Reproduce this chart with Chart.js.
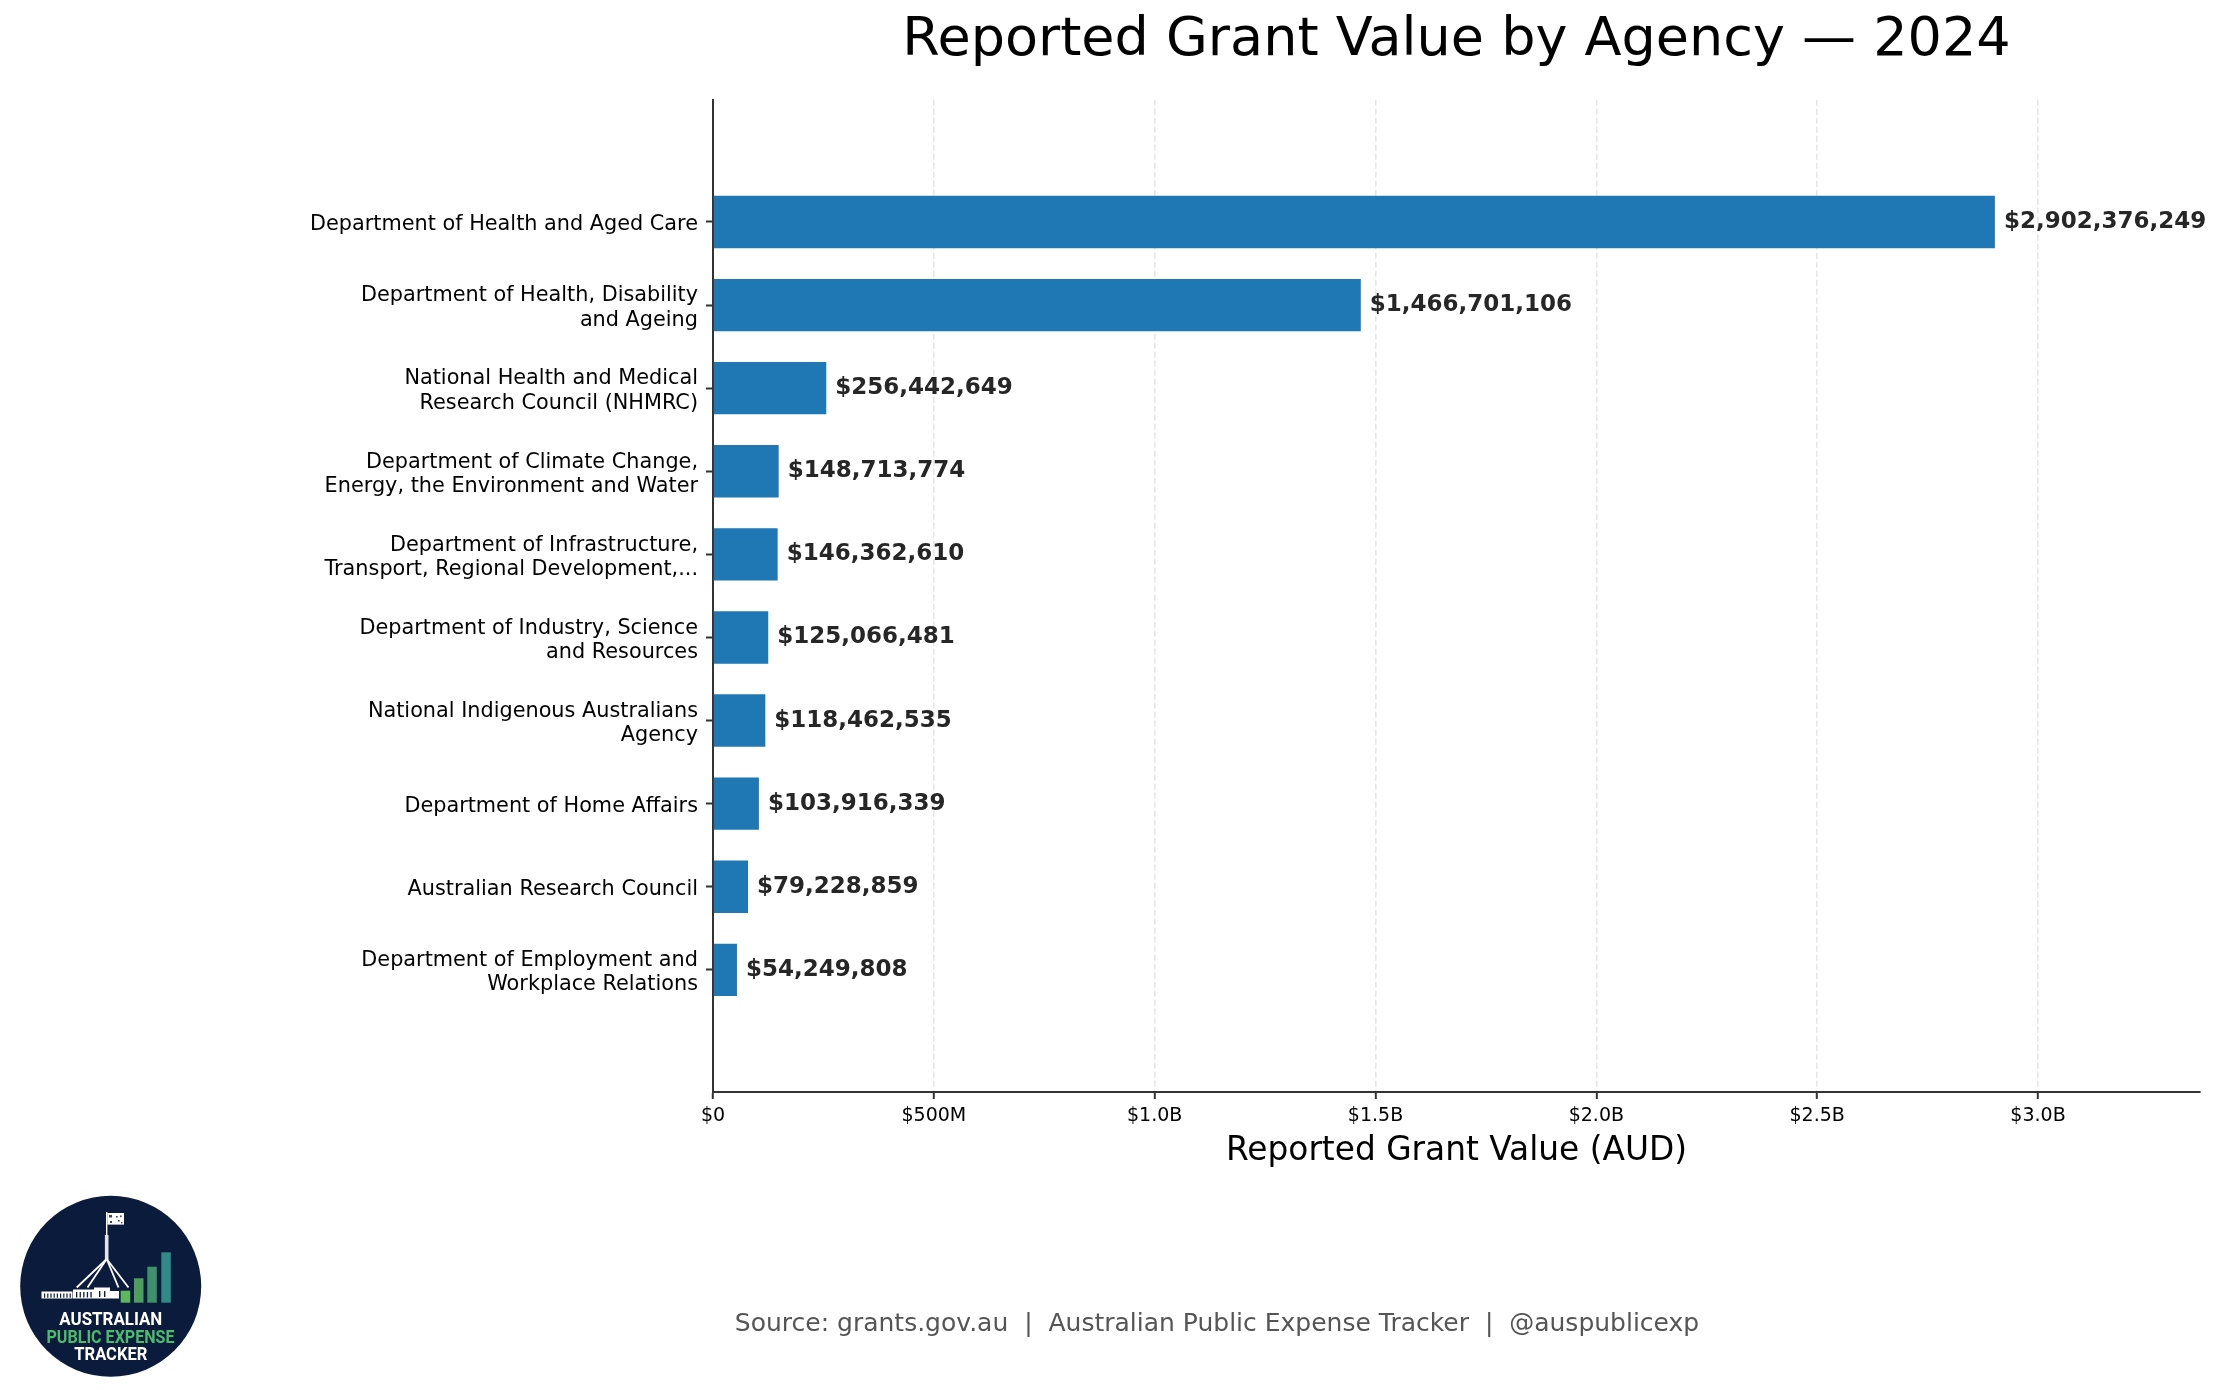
<!DOCTYPE html>
<html><head><meta charset="utf-8">
<script src="https://cdn.jsdelivr.net/npm/chart.js@4.4.1/dist/chart.umd.min.js"></script>
<style>html,body{margin:0;padding:0;background:#fff;} canvas{display:block;}</style>
</head><body>
<canvas id="c" width="2218" height="1399"></canvas>
<script>
// ---- data ----
const agencyLabels = [
  ["Department of Health and Aged Care"],
  ["Department of Health, Disability", "and Ageing"],
  ["National Health and Medical", "Research Council (NHMRC)"],
  ["Department of Climate Change,", "Energy, the Environment and Water"],
  ["Department of Infrastructure,", "Transport, Regional Development,..."],
  ["Department of Industry, Science", "and Resources"],
  ["National Indigenous Australians", "Agency"],
  ["Department of Home Affairs"],
  ["Australian Research Council"],
  ["Department of Employment and", "Workplace Relations"]
];
const grantValues = [2902376249, 1466701106, 256442649, 148713774, 146362610, 125066481, 118462535, 103916339, 79228859, 54249808];
const xTickValues = [0, 500000000, 1000000000, 1500000000, 2000000000, 2500000000, 3000000000];
const titleText = 'Reported Grant Value by Agency \u2014 2024';
const xAxisTitle = 'Reported Grant Value (AUD)';
const sourceText = 'Source: grants.gov.au  |  Australian Public Expense Tracker  |  @auspublicexp';

Chart.defaults.font.family = '"DejaVu Sans", sans-serif';

function fmtTick(v) {
  if (v === 0) return '$0';
  if (v < 1e9) return '$' + Math.round(v / 1e6) + 'M';
  return '$' + (v / 1e9).toFixed(1) + 'B';
}

const valueLabelPlugin = {
  id: 'valueLabels',
  afterDatasetsDraw(chart) {
    const ctx = chart.ctx;
    const meta = chart.getDatasetMeta(0);
    ctx.save();
    ctx.font = 'bold 23px "DejaVu Sans"';
    ctx.fillStyle = '#262626';
    ctx.textAlign = 'left';
    ctx.textBaseline = 'middle';
    meta.data.forEach((bar, i) => {
      ctx.fillText('$' + grantValues[i].toLocaleString('en-US'), bar.x + 9, bar.y);
    });
    ctx.restore();
  }
};

function drawLogo(ctx) {
  const cx = 110.7, cy = 1286.3, r = 90.5;
  ctx.save();
  ctx.beginPath(); ctx.arc(cx, cy, r, 0, Math.PI * 2);
  ctx.fillStyle = '#0b1b3c'; ctx.fill();
  // flag pole + mast
  ctx.strokeStyle = '#ffffff'; ctx.lineWidth = 1.4;
  ctx.beginPath(); ctx.moveTo(106.7, 1212); ctx.lineTo(106.7, 1236); ctx.stroke();
  ctx.fillStyle = '#dfe4ec'; ctx.fillRect(104.9, 1235, 3.6, 25);
  // flag
  ctx.fillStyle = '#ffffff'; ctx.fillRect(107.4, 1213, 16.6, 11.6);
  ctx.fillStyle = '#33456b';
  [[109,1215,3,2.5],[116,1216,1.6,1.6],[120,1215.5,1.6,1.6],[118,1220,1.6,1.6],[110,1221,2,2],[121,1222,1.4,1.4]].forEach(p => ctx.fillRect(p[0], p[1], p[2], p[3]));
  // legs
  ctx.strokeStyle = '#ffffff'; ctx.lineWidth = 1.8;
  [[76.7,1287.5],[87.5,1287.5],[128.5,1287.5],[118.5,1287.5]].forEach(p => {
    ctx.beginPath(); ctx.moveTo(106.7, 1259); ctx.lineTo(p[0], p[1]); ctx.stroke();
  });
  // building
  ctx.fillStyle = '#ffffff';
  ctx.fillRect(41.5, 1291.5, 31, 7);
  ctx.fillRect(73, 1289.5, 21, 9);
  ctx.fillRect(94, 1287.5, 16, 11);
  ctx.fillRect(110, 1291, 9, 7.5);
  ctx.fillStyle = '#0b1b3c';
  for (let x = 44; x < 71; x += 3.2) ctx.fillRect(x, 1293.5, 1.2, 4.2);
  for (let x = 76; x < 92; x += 3.6) ctx.fillRect(x, 1292, 1.3, 5.5);
  ctx.fillRect(99, 1291, 1.4, 6); ctx.fillRect(104, 1291, 1.4, 6);
  // bars
  const bars = [[120.7, 1290.7, '#5cb85c'], [134, 1278.3, '#4e9f5e'], [147.3, 1266.7, '#3f906b'], [161.3, 1252.3, '#2f8a88']];
  bars.forEach(b => { ctx.fillStyle = b[2]; ctx.fillRect(b[0], b[1], 9.5, 1302.7 - b[1]); });
  // text
  ctx.textAlign = 'center'; ctx.textBaseline = 'alphabetic';
  ctx.font = 'bold 18.5px Roboto';
  ctx.fillStyle = '#ffffff'; ctx.fillText('AUSTRALIAN', 110.8, 1325, 103);
  ctx.fillStyle = '#4cbb6c'; ctx.fillText('PUBLIC EXPENSE', 110.5, 1342.7, 128);
  ctx.fillStyle = '#ffffff'; ctx.fillText('TRACKER', 110.8, 1360, 73);
  ctx.restore();
}

const footerPlugin = {
  id: 'footer',
  afterDraw(chart) {
    const ctx = chart.ctx;
    ctx.save();
    ctx.font = '25px "DejaVu Sans"';
    ctx.fillStyle = '#555555';
    ctx.textAlign = 'center';
    ctx.textBaseline = 'alphabetic';
    ctx.fillText(sourceText, 1217, 1331);
    ctx.restore();
    drawLogo(ctx);
  }
};

new Chart(document.getElementById('c'), {
  type: 'bar',
  data: {
    labels: agencyLabels.map(l => l.join(' ')),
    datasets: [{
      data: grantValues.map((v, i) => ({ x: v, y: i })),
      backgroundColor: '#1f77b4',
      borderWidth: 0,
      barPercentage: 0.63,
      categoryPercentage: 1.0,
      clip: false
    }]
  },
  options: {
    indexAxis: 'y',
    responsive: false,
    devicePixelRatio: 1,
    animation: false,
    layout: { padding: { left: 0, right: 18, top: 0, bottom: 0 } },
    plugins: {
      legend: { display: false },
      tooltip: { enabled: false },
      title: {
        display: true,
        text: titleText,
        fullSize: false,
        color: '#000000',
        font: { size: 54, weight: 'normal', lineHeight: 1.2 },
        padding: { top: 9, bottom: 26 }
      }
    },
    scales: {
      x: {
        type: 'linear',
        position: 'bottom',
        min: 0,
        max: Math.max(...grantValues) * 1.16,
        afterBuildTicks: s => { s.ticks = xTickValues.map(v => ({ value: v })); },
        afterFit: s => { s.height = 307; },
        ticks: { callback: v => fmtTick(v), font: { size: 19 }, color: '#000000', padding: 6, maxRotation: 0, autoSkip: false },
        grid: { color: '#e6e6e6', lineWidth: 1.6, drawTicks: true, tickLength: 7, tickColor: '#333333', tickWidth: 2, tickBorderDash: [] },
        border: { display: true, color: '#333333', width: 2, dash: [6, 3] },
        title: { display: true, text: xAxisTitle, color: '#000000', font: { size: 32.8, lineHeight: 1.2 }, padding: { top: 0, bottom: 227.5 } }
      },
      y: {
        type: 'linear',
        position: 'left',
        reverse: true,
        offset: false,
        min: -1.47,
        max: 10.47,
        afterBuildTicks: s => { s.ticks = agencyLabels.map((_, i) => ({ value: i })); },
        afterFit: s => { s.width = 713; },
        ticks: { callback: v => agencyLabels[v], font: { size: 20.8, lineHeight: 1.16 }, color: '#000000', padding: 8, labelOffset: 3, autoSkip: false },
        grid: { display: true, offset: false, drawOnChartArea: false, drawTicks: true, tickLength: 7, tickColor: '#333333', tickWidth: 2, color: '#333333' },
        border: { display: true, color: '#333333', width: 2 }
      }
    }
  },
  plugins: [valueLabelPlugin, footerPlugin]
});
</script>
</body></html>
